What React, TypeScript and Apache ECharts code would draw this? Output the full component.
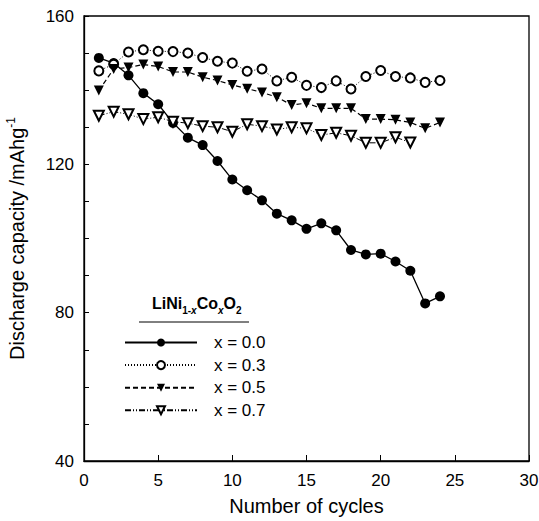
import React, { useEffect, useRef } from "react";
import * as echarts from "echarts";

const cycles = Array.from({ length: 24 }, (_, i) => i + 1);
const cycles07 = cycles.slice(0, 22);

const seriesNames = ["x = 0.0", "x = 0.3", "x = 0.5", "x = 0.7"];

const x00 = [148.7, 147.3, 144.0, 139.2, 136.2, 131.2, 127.2, 125.2, 120.9, 115.9, 113.0, 110.3, 106.7, 104.9, 102.6, 104.1, 102.2, 96.9, 95.7, 95.9, 93.8, 91.3, 82.5, 84.4];
const x03 = [145.2, 147.0, 150.3, 150.9, 150.5, 150.4, 150.0, 148.8, 147.8, 147.3, 145.1, 145.7, 142.5, 143.5, 141.3, 140.7, 142.5, 140.3, 143.7, 145.3, 143.7, 143.3, 142.1, 142.6];
const x05 = [139.9, 145.7, 146.1, 146.9, 146.4, 144.9, 144.9, 143.5, 142.6, 141.4, 140.4, 139.4, 138.1, 136.0, 136.5, 135.1, 135.1, 135.1, 132.2, 132.2, 132.0, 131.3, 129.7, 131.3];
const x07 = [133.1, 134.2, 133.5, 132.2, 132.7, 131.5, 131.1, 130.3, 130.0, 128.8, 130.8, 130.3, 129.4, 130.0, 129.7, 127.9, 128.5, 127.7, 125.8, 125.8, 127.3, 125.9];

const xTicks = { min: 0, max: 30, interval: 5 };
const yTicks = { min: 40, max: 160, interval: 10, labelEvery: 40 };

const FONT = "'Liberation Sans', Arial, Helvetica, sans-serif";

export default function App() {
  const ref = useRef<HTMLDivElement>(null);
  useEffect(() => {
    if (!ref.current) return;
    const chart = echarts.init(ref.current, null, { renderer: "svg" });
    const pair = (xs: number[], ys: number[]) => xs.map((x, i) => [x, ys[i]]);
    const option: any = {
      animation: false,
      backgroundColor: "#fff",
      textStyle: { fontFamily: FONT, color: "#000" },
      grid: {
        left: 84,
        right: 10,
        top: 16,
        bottom: 60,
        containLabel: false,
        outerBoundsMode: "none",
        show: true,
        borderColor: "#000",
        borderWidth: 1.3,
        backgroundColor: "transparent",
      },
      xAxis: {
        type: "value",
        min: xTicks.min,
        max: xTicks.max,
        interval: xTicks.interval,
        name: "Number of cycles",
        nameLocation: "middle",
        nameGap: 35,
        nameTextStyle: { fontSize: 20, color: "#000", fontFamily: FONT },
        axisLine: { show: true, lineStyle: { color: "#000", width: 1.3 } },
        axisTick: { show: true, inside: true, length: 6, lineStyle: { color: "#000" } },
        axisLabel: { fontSize: 17, color: "#000", margin: 11, fontFamily: FONT },
        splitLine: { show: false },
      },
      yAxis: {
        type: "value",
        min: yTicks.min,
        max: yTicks.max,
        interval: yTicks.interval,
        name: "{a|Discharge capacity /mAhg}{s|-1}",
        nameLocation: "middle",
        nameGap: 57,
        nameTextStyle: {
          color: "#000",
          fontFamily: FONT,
          rich: {
            a: { fontSize: 20, fontFamily: FONT, color: "#000", lineHeight: 22, verticalAlign: "bottom" },
            s: { fontSize: 12, fontFamily: FONT, color: "#000", lineHeight: 22, verticalAlign: "top" },
          },
        },
        axisLine: { show: true, lineStyle: { color: "#000", width: 1.3 } },
        axisTick: { show: true, inside: true, length: 5, lineStyle: { color: "#000" } },
        axisLabel: {
          fontSize: 17,
          color: "#000",
          margin: 10,
          fontFamily: FONT,
          formatter: (v: number) => (v % yTicks.labelEvery === 0 ? String(v) : ""),
        },
        splitLine: { show: false },
      },
      legend: {
        show: true,
        orient: "vertical",
        left: 119,
        top: 329,
        itemWidth: 72,
        itemHeight: 10,
        itemGap: 5.6,
        data: seriesNames,
        textStyle: { fontSize: 17, color: "#000", fontFamily: FONT, padding: [0, 0, 0, 12], lineHeight: 16 },
      },
      graphic: [
        {
          type: "text",
          left: 152,
          top: 295,
          style: {
            text: "{m|LiNi}{s|1-}{si|x}{m|Co}{si|x}{m|O}{s|2}",
            fill: "#000",
            rich: {
              m: { fontSize: 16, fontWeight: "bold", fontFamily: FONT, lineHeight: 20, verticalAlign: "bottom" },
              s: { fontSize: 10, fontWeight: "bold", fontFamily: FONT, lineHeight: 20, verticalAlign: "bottom", padding: [0, 0, -4, 0] },
              si: { fontSize: 10, fontWeight: "bold", fontStyle: "italic", fontFamily: FONT, lineHeight: 20, verticalAlign: "bottom", padding: [0, 0, -4, 0] },
            },
          },
        },
        {
          type: "line",
          shape: { x1: 139, y1: 322, x2: 249, y2: 322 },
          style: { stroke: "#000", lineWidth: 1 },
        },
      ],
      series: [
        {
          name: seriesNames[0],
          type: "line",
          data: pair(cycles, x00),
          symbol: "circle",
          symbolSize: 10,
          itemStyle: { color: "#000" },
          lineStyle: { color: "#000", width: 1.3, type: "solid" },
        },
        {
          name: seriesNames[1],
          type: "line",
          data: pair(cycles, x03),
          symbol: "emptyCircle",
          symbolSize: 9,
          itemStyle: { color: "#000", borderColor: "#000", borderWidth: 1.2 },
          lineStyle: { color: "#000", width: 1, type: [1, 2] },
        },
        {
          name: seriesNames[2],
          type: "line",
          data: pair(cycles, x05),
          symbol: "triangle",
          symbolRotate: 180,
          symbolSize: 10,
          itemStyle: { color: "#000" },
          lineStyle: { color: "#000", width: 1.2, type: [5, 3] },
        },
        {
          name: seriesNames[3],
          type: "line",
          data: pair(cycles07, x07),
          symbol: "emptyTriangle",
          symbolRotate: 180,
          symbolSize: 10,
          itemStyle: { color: "#000", borderColor: "#000", borderWidth: 1.1 },
          lineStyle: { color: "#000", width: 1, type: [6, 2, 1, 2, 1, 2] },
        },
      ],
    };
    chart.setOption(option);
    return () => chart.dispose();
  }, []);
  return (
    <div
      ref={ref}
      style={{ position: "fixed", left: 0, top: 0, width: 539, height: 521, background: "#fff" }}
    />
  );
}
